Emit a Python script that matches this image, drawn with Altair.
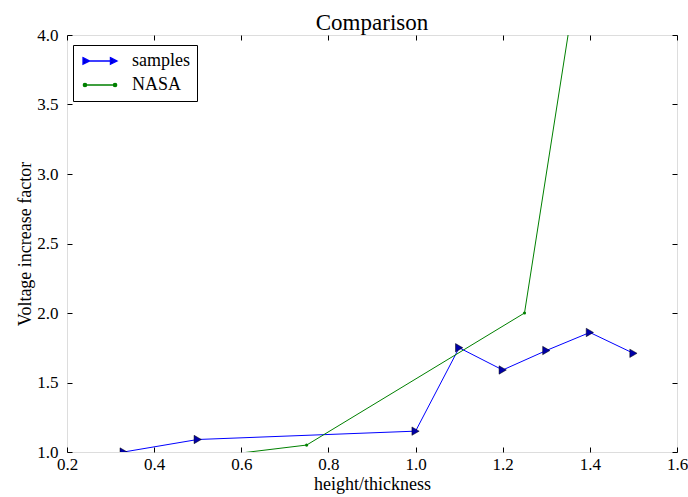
import altair as alt
import pandas as pd

# Measured voltage increase factor for the samples and the NASA reference curve
sample_x = [0.33, 0.5, 1.0, 1.1, 1.2, 1.3, 1.4, 1.5]
sample_y = [1.0, 1.09, 1.15, 1.75, 1.59, 1.73, 1.86, 1.71]
nasa_x = [0.5, 0.75, 1.25, 1.5]
nasa_y = [0.955, 1.05, 2.0, 7.0]
series_names = ["samples", "NASA"]
x_ticks = [0.2, 0.4, 0.6, 0.8, 1.0, 1.2, 1.4, 1.6]
y_ticks = [1.0, 1.5, 2.0, 2.5, 3.0, 3.5, 4.0]

FONT = "Liberation Serif"

samples = pd.DataFrame({"x": sample_x, "y": sample_y, "series": "samples"})
nasa = pd.DataFrame({"x": nasa_x, "y": nasa_y, "series": "NASA"})

xs = alt.Scale(domain=[0.2, 1.6], nice=False, zero=False)
ys = alt.Scale(domain=[1.0, 4.0], nice=False, zero=False)


def label_axis(orient, values, title, label_pad, title_pad):
    return alt.Axis(
        orient=orient, values=values, format=".1f", ticks=False, tickSize=0,
        domain=False, grid=False, labelPadding=label_pad, labelFont=FONT,
        labelFontSize=17, labelColor="black", labelOverlap=False,
        labelFlush=False, title=title, titleFont=FONT, titleFontSize=18,
        titleFontWeight="normal", titleColor="black", titlePadding=title_pad,
    )


def tick_axis(orient, values):
    # inward ticks: axis pushed inside the frame by its own tick length
    return alt.Axis(
        orient=orient, values=values, labels=False, domain=False, grid=False,
        ticks=True, tickSize=5, offset=-5, tickColor="black", tickWidth=1,
        title=None,
    )


samples_line = alt.Chart(samples).mark_line(
    clip=True, color="#0000ff", strokeWidth=1
).encode(
    x=alt.X("x:Q", scale=xs, axis=label_axis("bottom", x_ticks, "height/thickness", 4, 3)),
    y=alt.Y("y:Q", scale=ys, axis=label_axis("left", y_ticks, "Voltage increase factor", 9, 2)),
)

samples_pts = alt.Chart(samples).mark_point(
    clip=True, shape="triangle-right", filled=True, fill="#0000aa",
    stroke="black", strokeWidth=0.5, size=70, opacity=1,
).encode(
    x=alt.X("x:Q", scale=xs, axis=tick_axis("bottom", x_ticks)),
    y=alt.Y("y:Q", scale=ys, axis=tick_axis("left", y_ticks)),
)

nasa_line = alt.Chart(nasa).mark_line(
    clip=True, color="#008000", strokeWidth=1
).encode(
    x=alt.X("x:Q", scale=xs, axis=tick_axis("top", x_ticks)),
    y=alt.Y("y:Q", scale=ys, axis=tick_axis("right", y_ticks)),
)

nasa_pts = alt.Chart(nasa).mark_point(
    clip=True, shape="circle", filled=True, fill="#008000", size=10, opacity=1
).encode(
    x=alt.X("x:Q", scale=xs, axis=None),
    y=alt.Y("y:Q", scale=ys, axis=None),
)

# legend glyphs: a short line with a marker at each end
samples_glyph = "M-1,0L4.67,0M-1,-0.55L0.1,0L-1,0.55ZM3.57,-0.55L4.67,0L3.57,0.55Z"
nasa_glyph = ("M-1,0L4.67,0"
              "M-0.95,0a0.28,0.28 0 1,0 0.56,0a0.28,0.28 0 1,0 -0.56,0"
              "M4.06,0a0.28,0.28 0 1,0 0.56,0a0.28,0.28 0 1,0 -0.56,0")

legend_props = dict(
    title=None, orient="none", legendX=6, legendY=10, strokeColor="black",
    fillColor="white", padding=7, cornerRadius=0, labelFont=FONT,
    labelFontSize=18, labelColor="black", symbolSize=144,
    symbolStrokeWidth=1.3, symbolOpacity=1, labelOffset=34, rowPadding=6,
)

legend_layer = alt.Chart(samples).transform_filter("false").mark_point(
    filled=True, opacity=1, size=144, strokeWidth=1.3
).encode(
    fill=alt.Fill("series:N", scale=alt.Scale(domain=series_names, range=["#0000aa", "#008000"]),
                  legend=alt.Legend(**legend_props)),
    stroke=alt.Stroke("series:N", scale=alt.Scale(domain=series_names, range=["#0000ff", "#008000"]),
                      legend=alt.Legend(**legend_props)),
    shape=alt.Shape("series:N", scale=alt.Scale(domain=series_names, range=[samples_glyph, nasa_glyph]),
                    legend=alt.Legend(**legend_props)),
)

chart = alt.layer(
    samples_line, samples_pts, nasa_line, nasa_pts, legend_layer
).resolve_axis(
    x="independent", y="independent"
).properties(
    width=610,
    height=417,
    autosize=alt.AutoSizeParams(type="none"),
    padding={"left": 67, "top": 35, "right": 11, "bottom": 45},
    title=alt.TitleParams(
        "Comparison", font=FONT, fontSize=23, fontWeight="normal",
        color="black", anchor="middle", offset=1, baseline="bottom",
        frame="group", dy=33,
    ),
).configure_view(
    stroke="black", strokeWidth=1
).configure(background="white")

chart.save("out.html", embed_options={"renderer": "svg", "actions": False})
